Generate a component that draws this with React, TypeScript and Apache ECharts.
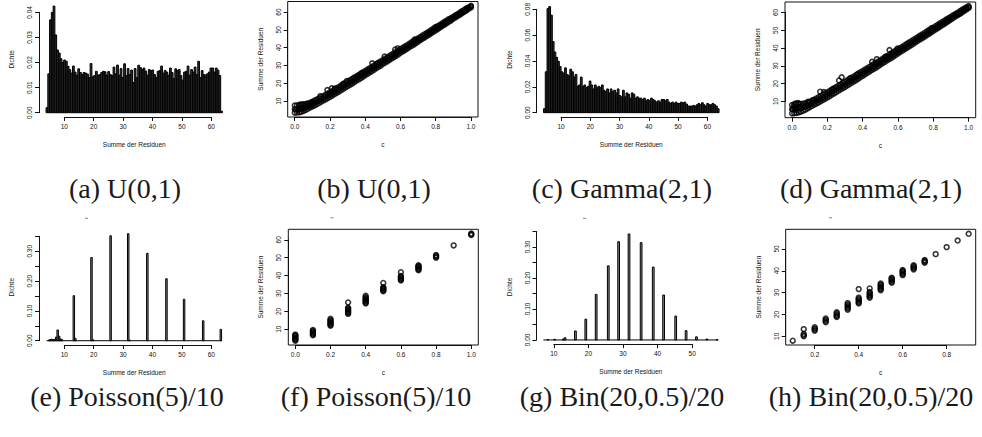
import React, { useEffect, useRef } from "react";
import * as echarts from "echarts";

// ---------------- data ----------------
const uniformHistStart = 3.8;
const uniformHistWidth = 0.6;
const uniformHistDensity = [
  0.002, 0.0155, 0.037, 0.04, 0.0425, 0.031, 0.025, 0.0238, 0.0215, 0.02,
  0.021, 0.0205, 0.0185, 0.0172, 0.0158, 0.0186, 0.0162, 0.015, 0.0175, 0.016,
  0.0152, 0.016, 0.0158, 0.0154, 0.014, 0.0196, 0.0143, 0.0148, 0.0165, 0.015,
  0.0152, 0.016, 0.0165, 0.0163, 0.015, 0.0164, 0.0152, 0.0148, 0.0182, 0.0155,
  0.019, 0.015, 0.0176, 0.014, 0.0195, 0.0148, 0.0176, 0.0152, 0.017, 0.012,
  0.0176, 0.014, 0.0189, 0.018, 0.0172, 0.0178, 0.0166, 0.015, 0.0172, 0.0168,
  0.017, 0.0152, 0.014, 0.0165, 0.0168, 0.0186, 0.0158, 0.0168, 0.0162, 0.015,
  0.0178, 0.016, 0.0136, 0.0175, 0.0168, 0.0172, 0.0148, 0.013, 0.0162, 0.0165,
  0.0186, 0.015, 0.0172, 0.0162, 0.0182, 0.0152, 0.0205, 0.014, 0.0168, 0.0152,
  0.015, 0.0155, 0.0162, 0.0178, 0.0178, 0.0162, 0.0178, 0.017, 0.0148, 0.0006,
];

const gammaHistStart = 4.0;
const gammaHistWidth = 0.6;
const gammaHistDensity = [
  0.003, 0.031, 0.079, 0.0805, 0.074, 0.054, 0.046, 0.042, 0.039, 0.035,
  0.031, 0.03, 0.034, 0.029, 0.028, 0.033, 0.031, 0.027, 0.029, 0.02,
  0.021, 0.027, 0.02, 0.021, 0.019, 0.02, 0.024, 0.021, 0.018, 0.021,
  0.019, 0.02, 0.019, 0.021, 0.017, 0.016, 0.018, 0.015, 0.018, 0.016,
  0.017, 0.015, 0.018, 0.013, 0.012, 0.017, 0.012, 0.015, 0.014, 0.011,
  0.015, 0.014, 0.011, 0.012, 0.011, 0.011, 0.01, 0.011, 0.009, 0.01,
  0.009, 0.011, 0.01, 0.009, 0.008, 0.009, 0.008, 0.01, 0.01, 0.009,
  0.01, 0.008, 0.007, 0.008, 0.007, 0.008, 0.007, 0.007, 0.008, 0.0075,
  0.008, 0.0065, 0.005, 0.005, 0.005, 0.0055, 0.005, 0.006, 0.007, 0.006,
  0.0075, 0.006, 0.005, 0.007, 0.006, 0.006, 0.007, 0.006, 0.005, 0.003,
];

const poissonBinWidth = 0.5;
const poissonBinStart = [4.5, 5.0, 5.5, 6.0, 6.5, 7.0, 7.5, 8.0, 8.5, 9.0, 13.0, 13.5, 19.0, 19.5, 25.5, 31.5, 32.0, 38.0, 44.5, 50.5, 57.0, 63.0];
const poissonDensity = [0.002, 0.004, 0.005, 0.003, 0.004, 0.012, 0.036, 0.015, 0.006, 0.003, 0.151, 0.008, 0.279, 0.003, 0.352, 0.359, 0.002, 0.293, 0.208, 0.139, 0.067, 0.038];
const poissonRange = [4.0, 63.5];

const binomBinWidth = 0.5;
const binomBinStart = [8.0, 10.0, 12.5, 13.0, 16.0, 19.0, 22.0, 25.5, 28.5, 31.5, 35.0, 38.5, 41.5, 45.0, 48.0, 51.0, 54.0, 57.0];
const binomDensity = [0.001, 0.002, 0.003, 0.007, 0.029, 0.067, 0.147, 0.239, 0.317, 0.342, 0.314, 0.235, 0.145, 0.077, 0.03, 0.01, 0.003, 0.001];
const binomRange = [7.0, 57.5];

const cValues = [
  0, 0.0125, 0.025, 0.0375, 0.05, 0.0625, 0.075, 0.0875, 0.1, 0.1125, 0.125, 0.1375, 0.15, 0.1625, 0.175, 0.1875,
  0.2, 0.2125, 0.225, 0.2375, 0.25, 0.2625, 0.275, 0.2875, 0.3, 0.3125, 0.325, 0.3375, 0.35, 0.3625, 0.375, 0.3875,
  0.4, 0.4125, 0.425, 0.4375, 0.45, 0.4625, 0.475, 0.4875, 0.5, 0.5125, 0.525, 0.5375, 0.55, 0.5625, 0.575, 0.5875,
  0.6, 0.6125, 0.625, 0.6375, 0.65, 0.6625, 0.675, 0.6875, 0.7, 0.7125, 0.725, 0.7375, 0.75, 0.7625, 0.775, 0.7875,
  0.8, 0.8125, 0.825, 0.8375, 0.85, 0.8625, 0.875, 0.8875, 0.9, 0.9125, 0.925, 0.9375, 0.95, 0.9625, 0.975, 0.9875, 1,
];

const uniformLow = [
  3.5, 3.6, 3.7, 4.1, 4.5, 5.1, 5.7, 6.4, 7.0, 7.6, 8.3, 8.9, 9.6, 10.3, 11.0, 11.7,
  12.4, 13.1, 13.9, 14.6, 15.3, 16.1, 16.8, 17.6, 18.3, 19.1, 19.8, 20.6, 21.4, 22.1, 22.9, 23.7,
  24.5, 25.3, 26.1, 26.8, 27.6, 28.4, 29.1, 29.9, 30.8, 31.6, 32.3, 33.1, 33.9, 34.6, 35.4, 36.2,
  37.1, 37.9, 38.6, 39.4, 40.2, 41.0, 41.7, 42.5, 43.4, 44.2, 45.0, 45.7, 46.5, 47.3, 48.1, 48.9,
  49.7, 50.5, 51.3, 52.1, 52.9, 53.7, 54.5, 55.3, 56.2, 57.0, 57.8, 58.5, 59.3, 60.1, 60.9, 61.8, 62.6,
];
const uniformMid = [
  5.5, 5.5, 5.7, 6.0, 6.3, 6.7, 7.2, 7.8, 8.3, 8.9, 9.6, 10.2, 10.9, 11.6, 12.3, 13.0,
  13.7, 14.4, 15.2, 15.9, 16.6, 17.4, 18.1, 18.9, 19.6, 20.4, 21.1, 21.9, 22.7, 23.4, 24.2, 24.9,
  25.7, 26.5, 27.3, 28.0, 28.8, 29.6, 30.3, 31.1, 31.9, 32.7, 33.4, 34.2, 35.0, 35.8, 36.5, 37.3,
  38.1, 38.9, 39.6, 40.4, 41.2, 42.0, 42.7, 43.5, 44.3, 45.1, 45.9, 46.6, 47.4, 48.2, 49.0, 49.8,
  50.5, 51.3, 52.1, 52.9, 53.7, 54.4, 55.2, 56.0, 56.8, 57.6, 58.4, 59.1, 59.9, 60.7, 61.5, 62.3, 63.0,
];
const uniformHigh = [
  7.5, 7.6, 7.8, 7.9, 8.1, 8.3, 8.6, 9.1, 9.6, 10.3, 10.9, 11.5, 12.2, 12.9, 13.6, 14.3,
  15.0, 15.7, 16.5, 17.2, 17.9, 18.7, 19.4, 20.2, 20.9, 21.7, 22.4, 23.2, 23.9, 24.7, 25.5, 26.2,
  26.9, 27.7, 28.4, 29.2, 30.0, 30.8, 31.5, 32.3, 33.0, 33.8, 34.5, 35.3, 36.1, 36.9, 37.6, 38.4,
  39.1, 39.9, 40.6, 41.4, 42.2, 43.0, 43.7, 44.5, 45.2, 46.0, 46.8, 47.5, 48.3, 49.1, 49.9, 50.7,
  51.3, 52.1, 52.9, 53.7, 54.5, 55.2, 56.0, 56.7, 57.4, 58.2, 58.9, 59.7, 60.5, 61.3, 62.1, 62.7, 63.5,
];
const uniformExtra = [
  [0.005, 5.5], [0.018, 5.0], [0.03, 6.0], [0.043, 5.6], [0.057, 6.6], [0.07, 7.0], [0.082, 7.6], [0.095, 8.2],
  [0.03, 8.1], [0.045, 8.3], [0.07, 8.6], [0.1, 9.3], [0.145, 12.8], [0.185, 16.2], [0.21, 17.2], [0.228, 17.1],
  [0.275, 19.8], [0.295, 21.3], [0.335, 22.8], [0.36, 24.2], [0.38, 25.6], [0.44, 31.2], [0.47, 31.2],
  [0.51, 35.0], [0.57, 39.0], [0.585, 39.6], [0.68, 44.6], [0.8, 51.6],
];

const gammaLow = [
  3.3, 3.4, 3.6, 3.9, 4.3, 4.8, 5.4, 6.1, 6.8, 7.5, 8.2, 8.8, 9.5, 10.2, 10.9, 11.6,
  12.3, 13.0, 13.8, 14.5, 15.2, 16.0, 16.7, 17.5, 18.2, 19.0, 19.7, 20.5, 21.3, 22.0, 22.8, 23.6,
  24.4, 25.2, 26.0, 26.7, 27.5, 28.3, 29.0, 29.8, 30.7, 31.5, 32.2, 33.0, 33.8, 34.5, 35.3, 36.1,
  37.0, 37.8, 38.5, 39.3, 40.1, 40.9, 41.6, 42.4, 43.3, 44.1, 44.9, 45.6, 46.4, 47.2, 48.0, 48.8,
  49.6, 50.4, 51.2, 52.0, 52.8, 53.6, 54.4, 55.2, 56.1, 56.9, 57.7, 58.4, 59.2, 60.0, 60.8, 61.7, 62.5,
];
const gammaMid = [
  5.6, 5.9, 6.2, 6.3, 6.4, 6.8, 7.2, 7.7, 8.3, 8.9, 9.6, 10.3, 11.0, 11.6, 12.3, 13.0,
  13.8, 14.5, 15.2, 16.0, 16.7, 17.5, 18.2, 18.9, 19.7, 20.4, 21.2, 21.9, 22.7, 23.5, 24.2, 25.0,
  25.8, 26.5, 27.3, 28.1, 28.8, 29.6, 30.4, 31.1, 31.9, 32.7, 33.5, 34.2, 35.0, 35.8, 36.6, 37.3,
  38.1, 38.9, 39.7, 40.4, 41.2, 42.0, 42.8, 43.5, 44.3, 45.1, 45.9, 46.7, 47.4, 48.2, 49.0, 49.8,
  50.6, 51.3, 52.1, 52.9, 53.7, 54.5, 55.3, 56.0, 56.8, 57.6, 58.4, 59.1, 59.9, 60.7, 61.5, 62.3, 63.0,
];
const gammaHigh = [
  8.0, 8.5, 8.8, 8.7, 8.6, 8.8, 9.0, 9.3, 9.8, 10.4, 11.0, 11.7, 12.4, 13.1, 13.8, 14.5,
  15.2, 15.9, 16.7, 17.4, 18.1, 18.9, 19.6, 20.4, 21.1, 21.9, 22.6, 23.4, 24.1, 24.9, 25.7, 26.4,
  27.1, 27.9, 28.6, 29.4, 30.2, 31.0, 31.7, 32.5, 33.2, 34.0, 34.7, 35.5, 36.3, 37.1, 37.8, 38.6,
  39.3, 40.1, 40.8, 41.6, 42.4, 43.2, 43.9, 44.7, 45.4, 46.2, 47.0, 47.7, 48.5, 49.3, 50.1, 50.9,
  51.5, 52.3, 53.1, 53.9, 54.7, 55.4, 56.2, 56.9, 57.6, 58.4, 59.1, 59.9, 60.7, 61.5, 62.3, 62.9, 63.6,
];
const gammaExtra = [
  [0.004, 5.6], [0.015, 6.3], [0.027, 5.2], [0.04, 6.8], [0.052, 6.2], [0.065, 7.4], [0.078, 7.2], [0.09, 8.0], [0.01, 7.2],
  [0.02, 8.9], [0.035, 9.2], [0.09, 9.8], [0.12, 10.8], [0.159, 15.5], [0.18, 15.3], [0.23, 16.8], [0.266, 21.8],
  [0.281, 23.6], [0.33, 23.2], [0.37, 25.2], [0.453, 32.3], [0.48, 33.8], [0.53, 35.2], [0.552, 38.9], [0.597, 39.8], [0.79, 51.2],
];

const poissonPoints = [
  [0, 3.6], [0, 4.1], [0, 4.6], [0, 5.1], [0, 5.6], [0, 6.1], [0, 6.6], [0, 7.0],
  [0.1, 6.6], [0.1, 7.1], [0.1, 7.6], [0.1, 8.1], [0.1, 8.6], [0.1, 9.1], [0.1, 9.6],
  [0.2, 12.0], [0.2, 12.5], [0.2, 13.0], [0.2, 13.5], [0.2, 14.0], [0.2, 14.6], [0.2, 15.1], [0.2, 15.9],
  [0.3, 18.6], [0.3, 19.1], [0.3, 19.6], [0.3, 20.1], [0.3, 20.6], [0.3, 21.1], [0.3, 21.6], [0.3, 22.0], [0.3, 25.0],
  [0.4, 24.4], [0.4, 24.9], [0.4, 25.4], [0.4, 25.9], [0.4, 26.4], [0.4, 26.9], [0.4, 27.4], [0.4, 27.9], [0.4, 28.7],
  [0.5, 31.2], [0.5, 31.7], [0.5, 32.2], [0.5, 32.7], [0.5, 33.1], [0.5, 33.5], [0.5, 35.9],
  [0.6, 37.3], [0.6, 37.8], [0.6, 38.3], [0.6, 38.8], [0.6, 39.3], [0.6, 39.8], [0.6, 41.9],
  [0.7, 43.0], [0.7, 43.5], [0.7, 44.0], [0.7, 44.5], [0.7, 45.0], [0.7, 45.4], [0.7, 45.8],
  [0.8, 50.0], [0.8, 50.5], [0.8, 51.0], [0.8, 51.5],
  [0.9, 56.9],
  [1.0, 62.7], [1.0, 63.1], [1.0, 63.5],
];

const binomPoints = [
  [0.1, 8.0],
  [0.15, 10.0], [0.15, 10.5], [0.15, 11.1], [0.15, 13.3],
  [0.2, 12.6], [0.2, 13.1], [0.2, 13.6], [0.2, 14.2],
  [0.25, 16.4], [0.25, 17.0], [0.25, 17.6], [0.25, 18.2],
  [0.3, 18.8], [0.3, 19.3], [0.3, 19.8], [0.3, 20.4], [0.3, 21.0],
  [0.35, 22.2], [0.35, 22.8], [0.35, 23.4], [0.35, 24.0], [0.35, 24.6], [0.35, 25.2],
  [0.4, 25.0], [0.4, 25.5], [0.4, 26.0], [0.4, 26.6], [0.4, 27.1], [0.4, 27.7], [0.4, 31.6],
  [0.45, 27.7], [0.45, 28.2], [0.45, 28.7], [0.45, 29.2], [0.45, 29.8], [0.45, 30.3], [0.45, 31.9],
  [0.5, 31.1], [0.5, 31.6], [0.5, 32.1], [0.5, 32.6], [0.5, 33.1], [0.5, 33.7], [0.5, 34.2],
  [0.55, 34.5], [0.55, 35.0], [0.55, 35.5], [0.55, 36.0], [0.55, 36.4], [0.55, 36.8],
  [0.6, 38.0], [0.6, 38.5], [0.6, 39.0], [0.6, 39.5], [0.6, 39.9], [0.6, 40.3],
  [0.65, 40.6], [0.65, 41.1], [0.65, 41.6], [0.65, 42.1], [0.65, 42.5],
  [0.7, 43.7], [0.7, 44.1], [0.7, 44.5], [0.7, 44.9],
  [0.75, 47.6], [0.8, 50.8], [0.85, 53.8], [0.9, 56.9],
];

const captions = [
  "(a) U(0,1)", "(b) U(0,1)", "(c) Gamma(2,1)", "(d) Gamma(2,1)",
  "(e) Poisson(5)/10", "(f) Poisson(5)/10", "(g) Bin(20,0.5)/20", "(h) Bin(20,0.5)/20",
];
const histXTitle = "Summe der Residuen";
const histYTitle = "Dichte";
const scatterXTitle = "c";
const scatterYTitle = "Summe der Residuen";

// ---------------- layout ----------------
const SANS = '"Liberation Sans", Arial, Helvetica, sans-serif';
const SERIF = '"Liberation Serif", "Times New Roman", serif';
const INK = "#111";
const FS = 6.5;

const fixed = (n: number) => (v: number) => v.toFixed(n);
const everyOther = (v: number) => (Math.round(v / 0.05) % 2 === 0 ? v.toFixed(2) : "");

type Panel = {
  L: number; R: number; T: number; B: number;
  xu: number[]; yu: number[]; xt: number[]; yt: number[];
  box: boolean; xName: string; yName: string;
  xf: (v: number) => string; yf: (v: number) => string;
};

const panels: Panel[] = [
  { L: 39, R: 229.5, T: 1.8, B: 117, xu: [1.4, 66.2], yu: [-0.0017, 0.0442], xt: [10, 60, 10], yt: [0, 0.04, 0.01], box: false, xName: histXTitle, yName: histYTitle, xf: fixed(0), yf: fixed(2) },
  { L: 287.7, R: 478, T: 1.5, B: 117, xu: [-0.04, 1.04], yu: [1.1, 65.9], xt: [0, 1, 0.2], yt: [10, 60, 10], box: true, xName: scatterXTitle, yName: scatterYTitle, xf: fixed(1), yf: fixed(0) },
  { L: 536.5, R: 726.1, T: 2.4, B: 116.9, xu: [1.6, 66.4], yu: [-0.00322, 0.0837], xt: [10, 60, 10], yt: [0, 0.08, 0.02], box: false, xName: histXTitle, yName: histYTitle, xf: fixed(0), yf: fixed(2) },
  { L: 785, R: 975.7, T: 2, B: 117.7, xu: [-0.04, 1.04], yu: [0.9, 65.9], xt: [0, 1, 0.2], yt: [10, 60, 10], box: true, xName: scatterXTitle, yName: scatterYTitle, xf: fixed(1), yf: fixed(0) },
  { L: 39, R: 229.5, T: 229.4, B: 345, xu: [1.4, 66.2], yu: [-0.01436, 0.3734], xt: [10, 60, 10], yt: [0, 0.35, 0.05], box: false, xName: histXTitle, yName: histYTitle, xf: fixed(0), yf: everyOther },
  { L: 288.3, R: 478.3, T: 229.3, B: 345, xu: [-0.04, 1.04], yu: [1.2, 65.9], xt: [0, 1, 0.2], yt: [10, 60, 10], box: true, xName: scatterXTitle, yName: scatterYTitle, xf: fixed(1), yf: fixed(0) },
  { L: 536.5, R: 725, T: 229.7, B: 344.2, xu: [5, 59.5], yu: [-0.0137, 0.3557], xt: [10, 50, 10], yt: [0, 0.35, 0.05], box: false, xName: histXTitle, yName: histYTitle, xf: fixed(0), yf: everyOther },
  { L: 785.7, R: 975.7, T: 229.3, B: 345, xu: [0.068, 0.932], yu: [6.04, 58.96], xt: [0.2, 0.8, 0.2], yt: [10, 50, 10], box: true, xName: scatterXTitle, yName: scatterYTitle, xf: fixed(1), yf: fixed(0) },
];

const captionPos = [
  [125, 188], [374, 188], [622, 188], [871, 188],
  [127, 396], [376, 396], [622, 396], [871, 396],
];
const tinyMarks = [[85, 218.3], [330.5, 217.8], [583, 218.3], [829, 217.8]];

// ---------------- series helpers ----------------
const makeHistRender = (fill: string) => (_p: any, api: any) => {
  const a = api.coord([api.value(0), api.value(2)]);
  const b = api.coord([api.value(1), 0]);
  return {
    type: "rect",
    shape: { x: a[0], y: a[1], width: b[0] - a[0], height: b[1] - a[1] },
    style: { fill, stroke: "#000", lineWidth: 1 },
  };
};
const baseRender = (_p: any, api: any) => {
  const a = api.coord([api.value(0), 0]);
  const b = api.coord([api.value(1), 0]);
  return { type: "line", shape: { x1: a[0], y1: a[1], x2: b[0], y2: b[1] }, style: { stroke: "#000", lineWidth: 1 } };
};

const regularBins = (start: number, w: number, dens: number[]) => dens.map((d, k) => [start + k * w, start + (k + 1) * w, d]);
const listedBins = (starts: number[], w: number, dens: number[]) => starts.map((s, k) => [s, s + w, dens[k]]);

const histSeries = (i: number, data: number[][], fill: string) => ({
  type: "custom", xAxisIndex: 2 * i, yAxisIndex: 2 * i, data, renderItem: makeHistRender(fill), silent: true,
  encode: { x: [0, 1], y: 2 },
});
const baseSeries = (i: number, range: number[]) => ({
  type: "custom", xAxisIndex: 2 * i, yAxisIndex: 2 * i, data: [range], renderItem: baseRender, silent: true,
  encode: { x: [0, 1] },
});
const scatterSeries = (i: number, data: number[][]) => ({
  type: "scatter", xAxisIndex: 2 * i, yAxisIndex: 2 * i, data, symbol: "circle", symbolSize: 4.8, silent: true,
  itemStyle: { color: "rgba(0,0,0,0)", borderColor: "#000", borderWidth: 1.6 },
});
const band = (lo: number[], mid: number[], hi: number[], extra: number[][]) => [
  ...cValues.map((c, k) => [c, lo[k]]),
  ...cValues.map((c, k) => [c, mid[k]]),
  ...cValues.map((c, k) => [c, hi[k]]),
  ...extra,
];

function buildOption() {
  const grid: any[] = [];
  const xAxis: any[] = [];
  const yAxis: any[] = [];
  const lineStyle = { color: INK, width: 1 };
  const labelStyle = { fontSize: FS, color: INK, fontFamily: SANS };
  panels.forEach((p, i) => {
    const W = p.R - p.L;
    const H = p.B - p.T;
    const px = (x: number) => p.L + ((x - p.xu[0]) / (p.xu[1] - p.xu[0])) * W;
    const py = (y: number) => p.B - ((y - p.yu[0]) / (p.yu[1] - p.yu[0])) * H;
    const ax0 = px(p.xt[0]);
    const ax1 = px(p.xt[1]);
    const ay0 = py(p.yt[0]);
    const ay1 = py(p.yt[1]);
    grid.push({ left: p.L, top: p.T, width: W, height: H, show: p.box, borderColor: INK, borderWidth: 1, backgroundColor: "transparent" });
    grid.push({ left: ax0, top: ay1, width: ax1 - ax0, height: ay0 - ay1, show: false });
    const hidden = { axisLine: { show: false }, axisTick: { show: false }, axisLabel: { show: false }, splitLine: { show: false } };
    xAxis.push({
      type: "value", gridIndex: 2 * i, min: p.xu[0], max: p.xu[1], ...hidden,
      name: p.xName, nameLocation: "middle", nameGap: 24, nameTextStyle: labelStyle,
    });
    yAxis.push({
      type: "value", gridIndex: 2 * i, min: p.yu[0], max: p.yu[1], ...hidden,
      name: p.yName, nameLocation: "middle", nameGap: 24, nameRotate: 90, nameTextStyle: labelStyle,
    });
    xAxis.push({
      type: "value", gridIndex: 2 * i + 1, min: p.xt[0], max: p.xt[1], interval: p.xt[2],
      position: "bottom", offset: p.B - ay0,
      axisLine: { show: true, onZero: false, lineStyle },
      axisTick: { show: true, inside: false, length: 4, lineStyle },
      axisLabel: { ...labelStyle, margin: 6, formatter: p.xf, showMinLabel: true, showMaxLabel: true },
      splitLine: { show: false },
    });
    yAxis.push({
      type: "value", gridIndex: 2 * i + 1, min: p.yt[0], max: p.yt[1], interval: p.yt[2],
      position: "left", offset: ax0 - p.L,
      axisLine: { show: true, onZero: false, lineStyle },
      axisTick: { show: true, inside: false, length: 4, lineStyle },
      axisLabel: { ...labelStyle, margin: 6, rotate: 90, formatter: p.yf, showMinLabel: true, showMaxLabel: true },
      splitLine: { show: false },
    });
  });

  const dense = "#2e2e2e";
  const spike = "#8a8a8a";
  const series: any[] = [
    histSeries(0, regularBins(uniformHistStart, uniformHistWidth, uniformHistDensity), dense),
    scatterSeries(1, band(uniformLow, uniformMid, uniformHigh, uniformExtra)),
    histSeries(2, regularBins(gammaHistStart, gammaHistWidth, gammaHistDensity), dense),
    scatterSeries(3, band(gammaLow, gammaMid, gammaHigh, gammaExtra)),
    baseSeries(4, poissonRange),
    histSeries(4, listedBins(poissonBinStart, poissonBinWidth, poissonDensity), spike),
    scatterSeries(5, poissonPoints),
    baseSeries(6, binomRange),
    histSeries(6, listedBins(binomBinStart, binomBinWidth, binomDensity), spike),
    scatterSeries(7, binomPoints),
  ];

  const graphic: any[] = [
    ...captions.map((t, k) => ({
      type: "text", x: captionPos[k][0], y: captionPos[k][1], silent: true,
      style: { text: t, fontSize: 28, fontFamily: SERIF, fill: "#1a1a1a", align: "center", verticalAlign: "middle" },
    })),
    ...tinyMarks.map(([x, y]) => ({
      type: "line", silent: true, shape: { x1: x, y1: y, x2: x + 3, y2: y }, style: { stroke: "#666", lineWidth: 0.8 },
    })),
  ];

  return { animation: false, backgroundColor: "#fff", grid, xAxis, yAxis, series, graphic };
}

export default function App() {
  const ref = useRef<HTMLDivElement>(null);
  useEffect(() => {
    if (!ref.current) return;
    const chart = echarts.init(ref.current, undefined, { renderer: "svg" });
    chart.setOption(buildOption() as any);
    return () => chart.dispose();
  }, []);
  return (
    <div
      ref={ref}
      style={{ position: "fixed", left: 0, top: 0, width: 982, height: 437, background: "#fff" }}
    />
  );
}
